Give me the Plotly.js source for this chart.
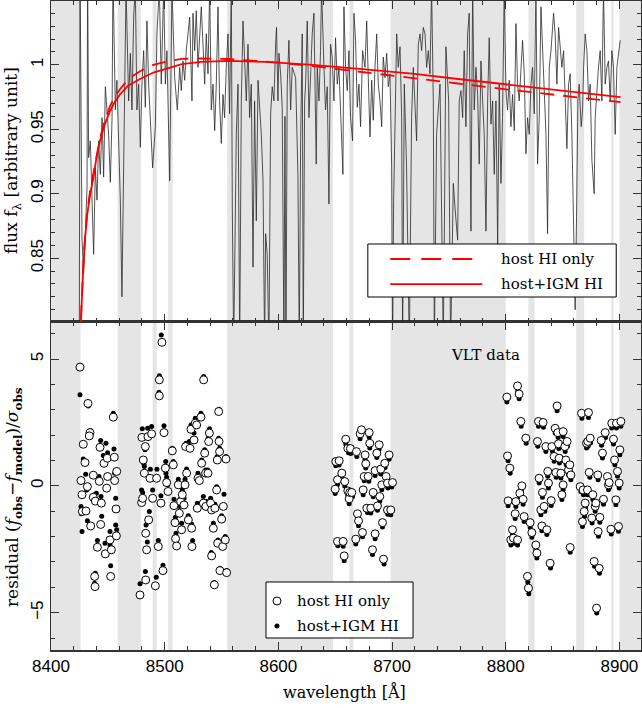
<!DOCTYPE html>
<html>
<head>
<meta charset="utf-8">
<script src="https://cdn.plot.ly/plotly-3.0.1.min.js"></script>
<style>html,body{margin:0;padding:0;background:#fff;}#chart{width:642px;height:708px;}</style>
</head>
<body>
<div id="chart"></div>
<script>
// ---------- masked wavelength windows (grey bands) ----------
const bandStart = [8400, 8458.6, 8489.4, 8503, 8555, 8662.5, 8698.8, 8820, 8862, 8892.8, 8900];
const bandEnd   = [8426, 8479, 8493, 8507, 8648, 8666, 8800, 8825.4, 8869, 8894.9, 8919];

const specWaveA = [8424.9,8425.5,8427.3,8428.7,8430.2,8431.7,8432.2,8433.1,8434.6,8436.1,
  8437.5,8439.0,8440.5,8441.9,8443.4,8444.9,8446.3,8447.8,8449.3,8450.7,
  8452.2,8453.7,8454.5,8456.6,8458.0,8459.5,8461.0,8462.4,8463.9,8466.0,
  8468.3,8469.8,8471.2,8472.7,8474.2,8475.6,8477.1,8478.6,8480.0,8481.5,
  8483.0,8484.4,8485.9,8487.4,8489.4,8491.8,8493.2,8495.3,8497.0,8499.1,
  8500.6,8502.0];
const specFluxA = [0.78,1.08,0.864,0.838,0.869,0.905,1.08,0.928,0.941,0.889,
  0.853,0.920,0.895,0.941,0.915,0.959,0.913,0.983,0.965,0.946,
  0.909,0.959,1.07,0.965,0.988,0.941,0.895,0.820,0.941,1.06,
  0.972,1.009,0.965,1.037,1.06,0.965,0.985,0.936,0.985,1.011,
  0.967,1.034,0.985,0.952,0.920,0.952,1.024,1.06,0.985,1.06,
  0.985,1.011];
const specWaveB = [8504.4,8506.4,8508.8,8511.1,8513.2,8514.6,8516.1,8517.6,8519.0,8520.5,
  8522.0,8524.0,8524.9,8526.4,8527.8,8529.3,8530.8,8532.2,8533.7,8535.2,
  8536.6,8538.1,8539.6,8541.0,8542.5,8544.0,8545.4,8546.9,8548.3,8549.8,
  8551.3,8552.7,8554.2,8555.7,8557.1,8558.6,8559.5,8560.7,8563.0,8564.5,
  8566.0,8567.4,8568.9,8570.3,8571.8,8573.3,8574.7,8576.2,8577.7,8579.1,
  8580.6,8582.1,8583.5,8585.0,8586.5,8587.9];
const specFluxB = [0.910,1.06,0.990,0.965,0.998,0.980,1.003,0.988,1.011,1.024,
  1.037,0.972,1.040,1.011,1.042,0.998,1.024,1.045,1.016,0.985,
  1.024,0.993,1.06,0.965,0.985,0.949,0.985,1.045,0.972,0.939,
  0.977,0.959,0.998,1.024,0.962,1.06,0.889,0.78,0.946,0.985,
  0.78,0.972,1.034,0.998,0.972,1.016,0.959,0.985,0.843,0.972,
  0.879,0.988,0.965,0.946,0.910,0.78];
const specWaveC = [8588.8,8590.2,8591.7,8593.2,8594.6,8596.1,8597.6,8598.4,8599.6,8600.5,
  8602.0,8603.4,8604.9,8605.8,8606.7,8607.8,8609.3,8610.8,8612.2,8613.7,
  8615.2,8617.2,8618.4,8619.6,8621.0,8621.9,8623.1,8624.0,8625.4,8626.9,
  8628.4,8629.8,8631.3,8633.3,8634.2,8635.7,8637.1,8638.0,8640.1,8641.5,
  8643.0,8644.5,8645.9,8647.4,8648.9,8650.3,8651.8,8653.3,8654.7,8656.8,
  8657.7,8659.1,8660.6,8662.1,8663.5,8665.3,8666.5,8667.9,8669.4,8670.9,
  8672.3];
const specFluxC = [0.869,0.853,0.78,0.962,0.983,0.972,1.016,1.029,0.972,1.009,
  0.993,0.967,0.78,0.96,0.78,0.985,1.019,0.965,0.998,0.993,
  0.990,0.915,0.78,0.941,1.024,0.78,0.972,0.985,1.034,0.959,
  0.998,1.024,1.040,0.923,0.998,0.972,1.011,1.06,0.998,0.965,
  0.983,0.892,1.016,1.006,0.972,1.021,0.985,0.998,0.965,0.915,
  1.045,0.998,0.980,1.011,0.959,0.941,1.040,1.019,0.967,0.985,
  0.952];
const specWaveD = [8674.1,8676.2,8677.7,8679.1,8680.6,8682.1,8683.5,8685.0,8686.5,8687.9,
  8689.4,8690.9,8692.3,8693.8,8695.3,8696.7,8698.2,8699.7,8700.5,8701.4,
  8702.6,8704.1,8705.5,8707.0,8708.5,8709.3,8710.8,8712.8,8715.2,8716.4,
  8717.2,8718.7,8720.2,8721.6,8723.1,8724.6,8726.0,8727.5,8729.0,8730.4,
  8731.9,8733.4,8734.8,8736.3,8737.2,8739.2,8742.2,8743.6,8745.1,8747.4,
  8748.6,8749.8,8751.5,8753.9,8755.4,8756.8];
const specFluxD = [1.011,0.998,1.034,0.990,0.944,0.988,0.957,0.998,1.024,0.985,
  0.972,0.952,1.006,0.990,1.009,0.983,0.993,0.920,0.78,0.895,
  0.946,1.024,0.998,1.014,0.959,0.78,0.985,0.920,0.78,0.895,
  0.959,0.998,0.972,0.941,1.016,1.024,1.011,1.029,1.024,0.998,
  1.011,0.993,1.06,0.972,0.78,0.946,0.985,0.895,0.78,1.014,
  0.985,0.972,0.78,0.908,0.889,0.869];
const specWaveE = [8757.7,8759.1,8760.6,8762.1,8763.5,8765.0,8766.5,8767.9,8769.4,8770.9,
  8772.3,8773.8,8775.3,8776.7,8778.2,8779.7,8781.1,8782.6,8784.1,8785.5,
  8787.0,8788.5,8789.9,8791.4,8792.9,8794.3,8795.8,8797.2,8798.7,8800.2,
  8801.6,8803.1,8804.6,8806.0,8807.5,8809.0,8810.4,8811.9,8813.4,8814.8,
  8816.3,8817.8,8819.2,8820.7,8822.2,8823.6,8825.1,8826.6,8828.0,8829.5,
  8831.0,8832.4,8833.9,8835.4,8836.8,8838.3,8839.8];
const specFluxE = [0.864,0.972,0.980,0.959,1.011,0.952,1.024,1.040,0.871,1.06,
  0.965,0.998,0.977,0.923,1.003,0.972,0.946,0.871,0.972,1.021,
  0.954,0.972,0.915,0.972,0.861,0.985,0.908,0.959,1.06,0.980,
  0.965,0.988,0.952,0.977,0.949,1.032,0.985,0.972,0.998,1.019,
  0.993,0.931,0.959,0.946,0.985,0.998,0.962,1.06,0.923,0.959,
  1.045,1.016,0.972,0.946,0.869,0.998,1.011];
const specWaveF = [8842.1,8843.5,8845.0,8846.5,8847.9,8849.4,8850.9,8852.3,8853.8,8855.3,
  8856.7,8858.2,8859.1,8860.0,8861.1,8862.3,8863.5,8864.6,8866.4,8867.6,
  8868.5,8869.9,8871.4,8872.9,8874.3,8875.8,8877.8,8878.7,8880.2,8881.6,
  8883.1,8884.6,8886.0,8887.5,8889.0,8890.4,8891.9,8893.4,8894.8,8896.3,
  8897.8,8899.2,8900.7];
const specFluxF = [1.040,1.024,0.985,1.029,1.011,0.998,1.011,0.977,0.935,0.985,
  0.993,0.946,0.895,0.843,0.810,0.882,0.972,0.985,0.952,0.965,
  0.998,1.024,1.011,0.972,0.985,0.926,0.900,0.959,0.985,0.998,
  1.011,0.972,1.06,0.985,0.998,1.003,0.972,1.011,0.998,0.946,
  0.998,1.011,1.019];

// ---------- model curves ----------
const modelWave = [8425.5,8426.5,8428.4,8430.0,8431.9,8434.5,8437.2,8440.0,8443.1,8447.0,
  8451.9,8456.0,8460.7,8468.0,8478.3,8490.0,8501.7,8515,8532,8556,
  8589,8630,8674,8720,8758,8800,8842,8870,8901];
const modelHostIGM = [0.785,0.808,0.843,0.866,0.884,0.900,0.912,0.928,0.941,0.953,
  0.964,0.971,0.977,0.984,0.989,0.994,0.997,1.0005,1.0023,1.003,
  1.0023,1.0,0.9966,0.993,0.989,0.985,0.981,0.978,0.975];
const modelHostOnly = [0.785,0.809,0.845,0.868,0.886,0.903,0.916,0.931,0.943,0.956,
  0.968,0.975,0.981,0.989,0.995,1.000,1.0025,1.0046,1.0049,1.0045,
  1.0025,0.999,0.9945,0.9895,0.9855,0.981,0.977,0.974,0.971];

// ---------- residuals: host HI only (open circles) ----------
const openWave1 = [8425.5,8426.4,8427.3,8428.4,8429.9,8427.6,8430.8,8432.0,8432.5,8434.3,8434.9,8437.2,8437.2,8439.0,8438.4,8438.7,8440.8,8443.1,8442.5,8443.7,8444.3,8446.6,8447.8,8449.5,8449.0,8449.8,8451.9,8452.5,8453.1,8454.8,8455.7,8456.0,8457.2,8457.8,8457.5,8433.7];
const openRes1  = [4.68,0.21,-0.35,1.64,0.92,-1.01,-0.99,-0.03,3.25,2.10,-1.58,0.42,-0.45,-0.60,-3.57,-3.97,-2.42,1.52,0.18,-1.52,-0.68,0.89,-2.68,1.09,-0.09,0.37,-2.13,-3.57,-2.52,2.71,1.13,0.21,-0.91,0.57,-1.97,1.97];
const openWave2 = [8478.3,8479.7,8480.6,8480.0,8481.2,8482.1,8483.3,8483.0,8483.3,8484.1,8485.3,8485.9,8487.1,8488.5,8489.4,8491.8,8492.9,8494.4,8495.3,8495.3,8496.7,8497.6,8498.5,8499.4,8500.6,8501.7,8502.9];
const openRes2  = [-4.30,-0.66,-0.49,1.91,1.02,0.50,-1.87,1.55,-3.71,-2.52,1.94,-1.34,0.30,2.05,-0.49,-3.94,0.30,-2.39,4.18,3.55,-0.68,5.66,-3.34,2.10,0.70,0.13,-0.22];
const openWave3 = [8506.7,8507.6,8508.2,8509.1,8509.6,8510.5,8512.0,8512.9,8514.0,8514.9,8515.5,8517.0,8517.9,8518.4,8519.3,8520.8,8522.3,8523.1,8523.7,8524.0,8525.8,8526.9,8528.1,8529.3,8528.7,8530.5,8531.9,8532.5,8534.0,8534.3,8535.2,8536.0,8536.3,8538.1,8539.3,8538.7,8540.4,8541.3,8542.8,8541.3,8543.7,8544.2,8545.7,8546.3,8547.5,8547.8,8548.3,8546.6,8548.6,8550.1,8551.0,8551.6,8553.3,8553.9,8554.5];
const openRes3  = [1.38,0.83,-0.78,-1.45,-2.08,-2.37,0.04,-1.08,-0.62,-1.73,-0.35,-0.75,0.04,1.55,0.50,-1.34,1.48,2.23,-1.67,-2.39,1.81,2.47,2.40,0.30,-0.88,0.21,2.71,0.89,-0.68,4.18,1.29,0.50,-0.81,0.50,2.08,1.75,-0.68,-0.95,-1.67,-2.76,-3.90,-0.88,-0.16,1.02,2.93,1.75,1.35,-2.26,-3.34,-1.31,-2.39,-0.81,-2.13,1.06,-3.42];
const openWave4 = [8650.0,8650.5,8652.0,8653.5,8652.0,8655.8,8657.0,8657.9,8658.4,8659.3,8661.1,8661.1,8662.3,8663.4,8662.8,8664.6,8668.1,8668.7,8669.6,8670.5,8671.9,8673.1,8674.0,8674.6,8675.5,8676.3,8676.9,8677.8,8679.0,8679.9,8680.4,8681.3,8682.8,8683.4,8685.1,8685.1,8686.6,8687.2,8688.7,8689.2,8690.1,8691.0,8691.6,8692.5,8693.6,8694.8,8696.0,8696.0,8697.4,8698.9,8700.4];
const openRes4  = [-0.13,0.96,0.24,0.99,-2.19,0.50,-2.19,-2.76,0.17,1.84,-0.20,1.48,-0.51,1.47,-0.26,-0.26,-2.10,1.35,-1.10,-1.38,2.05,2.21,-1.84,-0.16,0.37,1.22,0.87,-0.88,0.37,2.10,1.68,-0.88,-2.52,-0.26,0.60,-1.89,1.29,-0.79,1.62,-0.42,0.66,0.04,-1.45,-2.89,0.89,0.37,0.11,-0.95,1.22,-0.95,0.13];
const openWave5 = [8801.0,8801.6,8802.1,8803.6,8804.5,8806.0,8806.8,8808.3,8808.9,8810.4,8811.8,8810.4,8812.4,8814.2,8815.3,8813.3,8816.2,8817.7,8819.1,8820.0,8821.5,8823.0,8826.5,8827.4,8827.9,8828.8,8829.4,8830.9,8831.8,8832.3,8832.9,8833.8,8835.3,8836.2,8837.0,8837.6,8839.1,8840.0,8840.6,8842.6,8843.5,8844.1,8845.2,8845.8,8846.4,8847.0,8848.5,8849.4,8850.5,8850.5,8852.0,8852.9,8854.0,8855.2,8856.4,8857.3,8856.7,8865.5,8866.7,8867.5,8868.1,8869.0,8869.9,8871.1,8871.9,8872.2,8872.8,8873.4,8874.3,8875.7,8876.6,8877.8,8878.7,8879.3,8879.9,8881.0,8881.3,8882.2,8882.8,8884.0,8885.1,8886.0,8887.5,8889.5,8890.4,8891.0,8892.5,8893.3,8894.8,8895.7,8896.9,8897.4,8898.3,8899.2,8899.8,8900.4,8901.3];
const openRes5  = [3.50,1.18,-0.59,0.70,-2.13,-1.73,-2.06,-1.10,-0.62,3.94,3.62,-2.13,-0.29,0.00,-0.53,2.54,-1.21,1.88,-3.57,-4.03,-1.45,-1.84,-2.33,-2.65,1.75,2.54,0.30,-0.95,-1.58,-0.26,2.50,-0.81,1.55,-1.73,0.57,0.11,-3.05,-0.58,1.55,1.16,2.27,0.53,3.15,2.10,1.66,1.09,0.50,-0.35,0.04,2.14,1.55,1.02,1.75,0.63,0.83,0.43,-2.43,-0.03,2.86,-1.41,-0.16,-1.01,-0.68,1.68,-0.16,1.75,2.89,0.53,1.88,-1.27,-0.35,-2.98,-0.81,-0.68,-4.82,0.43,-1.80,-3.25,-1.24,1.79,1.29,-0.53,2.10,0.37,0.04,0.13,-1.71,2.47,1.84,1.02,-0.55,2.47,0.57,-1.60,0.11,1.42,2.54];

// ---------- residuals: host+IGM HI (filled dots) ----------
const fillWave1 = [8425.5,8426.4,8427.3,8428.4,8430.5,8426.7,8432.0,8431.4,8432.8,8434.6,8434.9,8436.6,8438.1,8439.9,8439.0,8438.4,8440.8,8443.7,8442.2,8444.6,8444.0,8446.0,8447.5,8448.4,8449.8,8451.9,8452.5,8451.9,8454.8,8455.4,8456.0,8456.9,8456.9,8457.8,8432.5];
const fillRes1  = [3.59,-0.81,-1.80,1.06,0.46,-1.10,-1.37,-0.16,3.15,2.18,-1.63,0.47,-0.35,-0.29,-3.44,-3.84,-2.15,1.79,0.37,-1.20,-0.42,1.20,-2.26,1.68,1.31,-1.80,-3.15,-2.33,2.86,1.45,0.50,-0.49,-1.54,-1.73,3.19];
const fillWave2 = [8478.3,8479.7,8480.6,8480.3,8481.8,8482.1,8483.6,8482.7,8483.0,8484.7,8485.0,8486.5,8487.4,8488.5,8489.4,8492.6,8493.2,8494.4,8495.3,8495.0,8496.7,8497.0,8498.5,8499.4,8500.9,8501.7,8502.6,8501.1];
const fillRes2  = [-3.86,-0.16,-0.26,2.25,0.85,0.76,-1.54,1.42,-3.38,-2.21,2.27,-1.01,0.66,2.34,-0.16,-3.60,0.66,-2.15,4.34,3.69,-0.39,5.95,-3.13,2.37,0.96,0.34,0.04,0.50];
const fillWave3 = [8506.7,8507.6,8508.2,8509.4,8509.9,8510.5,8512.0,8512.9,8513.5,8514.9,8515.5,8517.0,8517.9,8518.7,8519.3,8520.8,8521.7,8523.1,8523.7,8524.6,8525.8,8526.9,8528.1,8529.3,8528.7,8530.5,8531.9,8532.5,8534.0,8534.3,8535.2,8536.0,8536.6,8537.8,8539.5,8538.4,8540.4,8541.6,8542.8,8541.0,8543.7,8544.2,8545.7,8546.3,8547.8,8547.5,8548.3,8546.9,8548.6,8550.1,8551.0,8552.2,8553.3,8553.9,8554.5];
const fillRes3  = [1.48,0.96,-0.53,-1.24,-1.87,-2.13,0.26,-0.81,-0.53,-1.47,-0.16,-0.49,0.26,1.68,0.67,-1.18,1.75,2.40,-1.50,-2.15,2.08,2.67,2.60,0.50,-0.68,0.37,2.86,1.02,-0.42,4.31,1.42,0.63,-0.62,0.63,2.25,1.88,-0.49,-0.75,-1.47,-2.63,-3.81,-0.72,-0.03,1.16,3.02,1.88,1.48,-2.13,-3.25,-1.18,-2.22,-0.33,-2.00,1.16,-3.34];
const fillWave4 = [8650.0,8650.5,8652.0,8653.5,8652.3,8655.8,8657.0,8657.9,8658.4,8659.3,8661.1,8661.7,8662.3,8663.7,8663.1,8665.2,8668.1,8669.0,8669.6,8670.5,8671.9,8673.1,8674.0,8674.6,8675.5,8676.3,8676.9,8678.4,8679.6,8679.9,8680.4,8681.3,8682.8,8683.4,8685.1,8685.1,8686.6,8687.2,8688.7,8689.2,8690.1,8691.0,8691.6,8693.0,8693.9,8695.1,8696.3,8696.3,8697.4,8698.9,8699.8];
const fillRes4  = [-0.30,0.79,0.05,0.82,-2.36,0.31,-2.38,-2.95,0.00,1.65,-0.37,1.31,-0.70,1.28,-0.45,-0.43,-2.29,1.16,-1.27,-1.57,1.86,2.04,-2.01,-0.35,0.20,1.03,0.70,-1.05,0.18,1.93,1.49,-1.07,-2.71,-0.43,0.41,-2.08,1.12,-0.96,1.45,-0.61,0.47,-0.15,-1.62,-3.08,0.72,0.18,-0.08,-1.12,1.05,-1.14,-0.04];
const fillWave5 = [8801.0,8802.1,8802.1,8803.9,8804.5,8806.0,8806.8,8808.3,8808.9,8810.6,8811.8,8810.4,8812.4,8813.9,8815.3,8813.6,8816.2,8818.0,8819.4,8820.3,8821.5,8823.0,8826.5,8827.4,8828.2,8828.8,8829.4,8830.9,8831.8,8832.3,8833.2,8834.4,8835.3,8836.2,8837.0,8837.6,8839.4,8840.0,8841.1,8842.6,8843.5,8844.4,8845.2,8846.1,8846.7,8847.3,8848.5,8849.4,8850.5,8850.5,8852.3,8853.2,8854.3,8855.2,8856.4,8857.3,8856.7,8866.1,8867.0,8867.5,8868.4,8869.3,8870.2,8871.1,8871.9,8872.5,8872.8,8874.0,8874.6,8876.0,8876.6,8878.1,8878.7,8879.3,8880.1,8881.3,8881.6,8882.5,8882.8,8884.3,8885.1,8886.0,8887.8,8889.8,8890.4,8891.3,8892.8,8893.3,8894.8,8896.0,8896.9,8897.4,8898.3,8899.2,8899.8,8900.4,8901.3];
const fillRes5  = [3.31,0.99,-0.78,0.50,-2.33,-1.92,-2.26,-1.29,-0.81,3.75,
  3.43,-2.33,-0.48,-0.20,-0.72,2.35,-1.40,1.68,-3.79,-4.25,
  -1.64,-2.03,-2.52,-2.84,1.56,2.35,0.11,-1.14,-1.77,-0.45,
  2.31,-1.00,1.36,-1.92,0.38,-0.08,-3.24,-0.77,1.36,0.97,
  2.08,0.34,2.96,1.91,1.47,0.90,0.31,-0.54,-0.15,1.95,
  1.36,0.83,1.56,0.44,0.64,0.24,-2.62,-0.22,2.67,-1.60,
  -0.35,-1.20,-0.87,1.49,-0.35,1.56,2.70,0.34,1.69,-1.46,
  -0.54,-3.17,-1.00,-0.87,-5.01,0.24,-1.99,-3.44,-1.43,1.60,
  1.10,-0.72,1.91,0.18,-0.15,-0.06,-1.90,2.28,1.65,0.83,
  -0.74,2.28,0.38,-1.79,-0.08,1.23,2.35];

// ---------- tick / text labels ----------
const legendLabels = ['host HI only', 'host+IGM HI'];
const panelNote = 'VLT data';
const xTitle = 'wavelength [Å]';
const yTitleTop = 'flux f<sub>λ</sub> [arbitrary unit]';
const yTitleBottom = 'residual (<i>f</i><sub><b>obs</b></sub>−<i>f</i><sub><b>model</b></sub>)/<i>σ</i><sub><b>obs</b></sub>';

// ---------- build ----------
const specWave = [].concat(specWaveA, specWaveB, specWaveC, specWaveD, specWaveE, specWaveF);
const specFlux = [].concat(specFluxA, specFluxB, specFluxC, specFluxD, specFluxE, specFluxF);
const openWave = [].concat(openWave1, openWave2, openWave3, openWave4, openWave5);
const openRes  = [].concat(openRes1, openRes2, openRes3, openRes4, openRes5);
const fillWave = [].concat(fillWave1, fillWave2, fillWave3, fillWave4, fillWave5);
const fillRes  = [].concat(fillRes1, fillRes2, fillRes3, fillRes4, fillRes5);

const SERIF = 'DejaVu Serif, serif';
const SANS = 'Liberation Sans, Arial, sans-serif';
const AX = '#333';
const RED = '#ff0000';

const traces = [
  {x: specWave, y: specFlux, xaxis: 'x2', yaxis: 'y2', type: 'scatter', mode: 'lines',
   line: {color: '#2a2a2a', width: 0.8}, hoverinfo: 'skip'},
  {x: modelWave, y: modelHostOnly, xaxis: 'x2', yaxis: 'y2', type: 'scatter', mode: 'lines',
   name: legendLabels[0], line: {color: RED, width: 1.8, dash: '14px,9px'}},
  {x: modelWave, y: modelHostIGM, xaxis: 'x2', yaxis: 'y2', type: 'scatter', mode: 'lines',
   name: legendLabels[1], line: {color: RED, width: 1.8}},
  {x: fillWave, y: fillRes, xaxis: 'x', yaxis: 'y', type: 'scatter', mode: 'markers',
   name: legendLabels[1], marker: {symbol: 'circle', size: 5, color: 'black'}},
  {x: openWave, y: openRes, xaxis: 'x', yaxis: 'y', type: 'scatter', mode: 'markers',
   name: legendLabels[0], marker: {symbol: 'circle', size: 8, color: 'rgba(255,255,255,1)', line: {color: 'black', width: 1}}}
];

const shapes = [];
for (let i = 0; i < bandStart.length; i++) {
  shapes.push({type: 'rect', xref: 'x', yref: 'paper', x0: bandStart[i], x1: bandEnd[i], y0: 0, y1: 1,
    fillcolor: '#e5e5e5', line: {width: 0}, layer: 'below'});
}
// top legend
shapes.push({type: 'rect', xref: 'paper', yref: 'paper', x0: 0.537, x1: 0.958, y0: 0.5439, y1: 0.6256,
  fillcolor: 'white', line: {color: 'black', width: 1}, layer: 'above'});
shapes.push({type: 'line', xref: 'paper', yref: 'paper', x0: 0.575, x1: 0.731, y0: 0.6025, y1: 0.6025,
  line: {color: RED, width: 1.8, dash: '20px,11px'}, layer: 'above'});
shapes.push({type: 'line', xref: 'paper', yref: 'paper', x0: 0.575, x1: 0.731, y0: 0.5639, y1: 0.5639,
  line: {color: RED, width: 1.8}, layer: 'above'});
// bottom legend
shapes.push({type: 'rect', xref: 'paper', yref: 'paper', x0: 0.3644, x1: 0.6136, y0: 0.0185, y1: 0.1048,
  fillcolor: 'white', line: {color: 'black', width: 1}, layer: 'above'});
shapes.push({type: 'circle', xref: 'paper', yref: 'paper', xsizemode: 'pixel', ysizemode: 'pixel',
  xanchor: 0.383, yanchor: 0.0755, x0: -4, x1: 4, y0: -4, y1: 4,
  fillcolor: 'white', line: {color: 'black', width: 1}, layer: 'above'});
shapes.push({type: 'circle', xref: 'paper', yref: 'paper', xsizemode: 'pixel', ysizemode: 'pixel',
  xanchor: 0.383, yanchor: 0.037, x0: -2.5, x1: 2.5, y0: -2.5, y1: 2.5,
  fillcolor: 'black', line: {color: 'black', width: 0}, layer: 'above'});

const textFont = {family: SERIF, size: 15, color: 'black'};
const annotations = [
  {xref: 'paper', yref: 'paper', x: 0.759, y: 0.6025, xanchor: 'left', yanchor: 'middle', text: legendLabels[0], showarrow: false, font: textFont},
  {xref: 'paper', yref: 'paper', x: 0.759, y: 0.5639, xanchor: 'left', yanchor: 'middle', text: legendLabels[1], showarrow: false, font: textFont},
  {xref: 'paper', yref: 'paper', x: 0.4136, y: 0.0755, xanchor: 'left', yanchor: 'middle', text: legendLabels[0], showarrow: false, font: textFont},
  {xref: 'paper', yref: 'paper', x: 0.4136, y: 0.037, xanchor: 'left', yanchor: 'middle', text: legendLabels[1], showarrow: false, font: textFont},
  {xref: 'paper', yref: 'paper', x: 0.7356, y: 0.4545, xanchor: 'center', yanchor: 'middle', text: panelNote, showarrow: false, font: textFont},
  {xref: 'paper', yref: 'paper', x: 0.498, y: -0.0647, xanchor: 'center', yanchor: 'middle', text: xTitle, showarrow: false, font: {family: SERIF, size: 16, color: 'black'}},
  {xref: 'paper', yref: 'paper', x: -0.0644, y: 0.7535, xanchor: 'center', yanchor: 'middle', textangle: -90, text: yTitleTop, showarrow: false, font: {family: SERIF, size: 17, color: 'black'}},
  {xref: 'paper', yref: 'paper', x: -0.0644, y: 0.2357, xanchor: 'center', yanchor: 'middle', textangle: -90, text: yTitleBottom, showarrow: false, font: {family: SERIF, size: 17, color: 'black'}}
];

const common = {
  ticks: 'inside', ticklen: 8, tickwidth: 1, tickcolor: AX,
  showline: true, linecolor: AX, linewidth: 1.5, mirror: 'ticks',
  showgrid: false, zeroline: false,
  tickfont: {family: SANS, size: 17, color: 'black'}
};

const layout = {
  width: 642, height: 708,
  margin: {l: 51, r: 1, t: 1, b: 58},
  paper_bgcolor: 'white', plot_bgcolor: 'white',
  showlegend: false,
  xaxis: Object.assign({}, common, {domain: [0, 1], anchor: 'y', range: [8400, 8919],
    tickmode: 'linear', tick0: 8400, dtick: 100,
    minor: {tick0: 8400, dtick: 20, ticks: 'inside', ticklen: 4, tickcolor: AX}}),
  xaxis2: Object.assign({}, common, {domain: [0, 1], anchor: 'y2', range: [8400, 8919], matches: 'x',
    tickmode: 'linear', tick0: 8400, dtick: 100, showticklabels: false,
    minor: {tick0: 8400, dtick: 20, ticks: 'inside', ticklen: 4, tickcolor: AX}}),
  yaxis: Object.assign({}, common, {domain: [0, 0.5054], anchor: 'x', range: [-6.47, 6.46],
    tickmode: 'linear', tick0: 0, dtick: 5, tickangle: -90,
    minor: {tick0: 0, dtick: 1, ticks: 'inside', ticklen: 4, tickcolor: AX}}),
  yaxis2: Object.assign({}, common, {domain: [0.5054, 1], anchor: 'x2', range: [0.8005, 1.0495],
    tickmode: 'linear', tick0: 0.85, dtick: 0.05, tickangle: -90,
    minor: {tick0: 0.8, dtick: 0.01, ticks: 'inside', ticklen: 4, tickcolor: AX}}),
  shapes: shapes,
  annotations: annotations
};

Plotly.newPlot('chart', traces, layout, {staticPlot: true, displayModeBar: false});
</script>
</body>
</html>
